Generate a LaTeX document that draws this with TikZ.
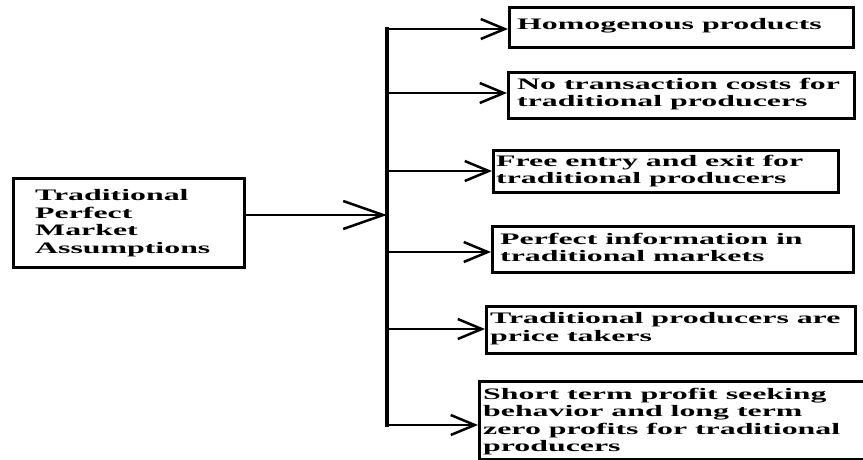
\documentclass[tikz,border=0pt]{standalone}
\usepackage{fontspec}
\setmainfont{Liberation Serif}[FakeStretch=1.99]
\usetikzlibrary{arrows.meta}
\begin{document}
\begin{tikzpicture}[x=1pt,y=-1pt,
  box/.style={draw, line width=3pt, anchor=north west, inner sep=0pt},
  txt/.style={anchor=west, align=left, inner sep=0pt, font=\fontsize{16}{17.5}\selectfont\bfseries},
  conn/.style={line width=2.5pt},
  tip/.style={-{Straight Barb[length=24pt,width=20pt,line width=2.5pt]}},
  bigtip/.style={-{Straight Barb[length=40pt,width=28pt,line width=2.5pt]}}]
\clip (0,0) rectangle (863,459);
% boxes
\node[box, minimum width=231pt, minimum height=89pt] (L) at (12,177) {};
\node[box, minimum width=344pt, minimum height=40pt] (b1) at (508,6) {};
\node[box, minimum width=346pt, minimum height=46pt] (b2) at (507,71) {};
\node[box, minimum width=345pt, minimum height=42pt] (b3) at (492,149) {};
\node[box, minimum width=361pt, minimum height=46pt] (b4) at (491,225) {};
\node[box, minimum width=369pt, minimum height=47pt] (b5) at (485,305) {};
\node[box, minimum width=392pt, minimum height=78pt] (b6) at (478,380) {};
% texts
\node[txt] (Lt) at (35,223) {Traditional\\Perfect\\Market\\Assumptions};
\node[txt] (t1x) at (517,26) {Homogenous products};
\node[txt] (t2x) at (517,94) {No transaction costs for\\traditional producers};
\node[txt] (t3x) at (496,171) {Free entry and exit for\\traditional producers};
\node[txt] (t4x) at (500,247.5) {Perfect information in\\traditional markets};
\node[txt] (t5x) at (490,328.5) {Traditional producers are\\price takers};
\node[txt] (t6x) at (483,421.5) {Short term profit seeking\\behavior and long term\\zero profits for traditional\\producers};
% trunk coordinates
\coordinate (c1) at (387,29);
\coordinate (c2) at (387,93);
\coordinate (c3) at (387,171);
\coordinate (c4) at (387,252);
\coordinate (c5) at (387,329);
\coordinate (c6) at (387,425);
\coordinate (m) at (387,215);
\draw[line width=4pt, line cap=rect] (c1) -- (c6);
\draw[conn, tip] (c1) -- (c1 -| b1.west);
\draw[conn, tip] (c2) -- (c2 -| b2.west);
\draw[conn, tip] (c3) -- (c3 -| b3.west);
\draw[conn, tip] (c4) -- (c4 -| b4.west);
\draw[conn, tip] (c5) -- (c5 -| b5.west);
\draw[conn, tip] (c6) -- (c6 -| b6.west);
\draw[conn, bigtip] (L.east |- m) -- (m);
\end{tikzpicture}
\end{document}
